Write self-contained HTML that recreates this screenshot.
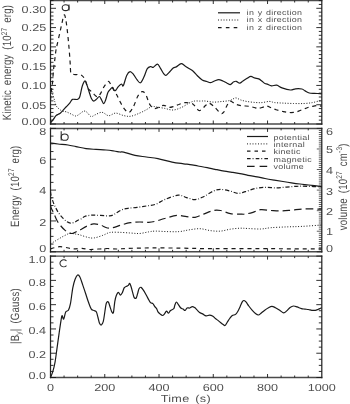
<!DOCTYPE html>
<html><head><meta charset="utf-8"><style>
html,body{margin:0;padding:0;background:#fff;}
body{width:350px;height:404px;overflow:hidden;}
svg{display:block;filter:grayscale(1) blur(0.35px);}
text{font-family:"Liberation Sans",sans-serif;fill:#505050;text-rendering:geometricPrecision;}
text.t{fill:#4a4a4a;}
</style></head><body>
<svg width="350" height="404" viewBox="0 0 350 404">
<defs>
<clipPath id="ca"><rect x="50.5" y="0.5" width="271.3" height="123.5"/></clipPath>
<clipPath id="cb"><rect x="50.5" y="128.4" width="271.3" height="123.4"/></clipPath>
<clipPath id="cc"><rect x="50.5" y="256.1" width="271.3" height="121.39999999999998"/></clipPath>
</defs>
<rect width="350" height="404" fill="#fff"/>
<line x1="49.90" y1="0.50" x2="322.40" y2="0.50" stroke="#4a4a4a" stroke-width="1.45"/>
<line x1="49.90" y1="124.00" x2="322.40" y2="124.00" stroke="#4a4a4a" stroke-width="1.45"/>
<line x1="50.50" y1="-0.20" x2="50.50" y2="124.70" stroke="#262626" stroke-width="1.25"/>
<line x1="321.80" y1="-0.20" x2="321.80" y2="124.70" stroke="#262626" stroke-width="1.25"/>
<line x1="64.06" y1="124.00" x2="64.06" y2="122.00" stroke="#1a1a1a" stroke-width="0.9"/>
<line x1="64.06" y1="0.50" x2="64.06" y2="2.50" stroke="#1a1a1a" stroke-width="0.9"/>
<line x1="77.63" y1="124.00" x2="77.63" y2="122.00" stroke="#1a1a1a" stroke-width="0.9"/>
<line x1="77.63" y1="0.50" x2="77.63" y2="2.50" stroke="#1a1a1a" stroke-width="0.9"/>
<line x1="91.19" y1="124.00" x2="91.19" y2="122.00" stroke="#1a1a1a" stroke-width="0.9"/>
<line x1="91.19" y1="0.50" x2="91.19" y2="2.50" stroke="#1a1a1a" stroke-width="0.9"/>
<line x1="104.76" y1="124.00" x2="104.76" y2="120.50" stroke="#1a1a1a" stroke-width="0.9"/>
<line x1="104.76" y1="0.50" x2="104.76" y2="4.00" stroke="#1a1a1a" stroke-width="0.9"/>
<line x1="118.33" y1="124.00" x2="118.33" y2="122.00" stroke="#1a1a1a" stroke-width="0.9"/>
<line x1="118.33" y1="0.50" x2="118.33" y2="2.50" stroke="#1a1a1a" stroke-width="0.9"/>
<line x1="131.89" y1="124.00" x2="131.89" y2="122.00" stroke="#1a1a1a" stroke-width="0.9"/>
<line x1="131.89" y1="0.50" x2="131.89" y2="2.50" stroke="#1a1a1a" stroke-width="0.9"/>
<line x1="145.45" y1="124.00" x2="145.45" y2="122.00" stroke="#1a1a1a" stroke-width="0.9"/>
<line x1="145.45" y1="0.50" x2="145.45" y2="2.50" stroke="#1a1a1a" stroke-width="0.9"/>
<line x1="159.02" y1="124.00" x2="159.02" y2="120.50" stroke="#1a1a1a" stroke-width="0.9"/>
<line x1="159.02" y1="0.50" x2="159.02" y2="4.00" stroke="#1a1a1a" stroke-width="0.9"/>
<line x1="172.58" y1="124.00" x2="172.58" y2="122.00" stroke="#1a1a1a" stroke-width="0.9"/>
<line x1="172.58" y1="0.50" x2="172.58" y2="2.50" stroke="#1a1a1a" stroke-width="0.9"/>
<line x1="186.15" y1="124.00" x2="186.15" y2="122.00" stroke="#1a1a1a" stroke-width="0.9"/>
<line x1="186.15" y1="0.50" x2="186.15" y2="2.50" stroke="#1a1a1a" stroke-width="0.9"/>
<line x1="199.72" y1="124.00" x2="199.72" y2="122.00" stroke="#1a1a1a" stroke-width="0.9"/>
<line x1="199.72" y1="0.50" x2="199.72" y2="2.50" stroke="#1a1a1a" stroke-width="0.9"/>
<line x1="213.28" y1="124.00" x2="213.28" y2="120.50" stroke="#1a1a1a" stroke-width="0.9"/>
<line x1="213.28" y1="0.50" x2="213.28" y2="4.00" stroke="#1a1a1a" stroke-width="0.9"/>
<line x1="226.84" y1="124.00" x2="226.84" y2="122.00" stroke="#1a1a1a" stroke-width="0.9"/>
<line x1="226.84" y1="0.50" x2="226.84" y2="2.50" stroke="#1a1a1a" stroke-width="0.9"/>
<line x1="240.41" y1="124.00" x2="240.41" y2="122.00" stroke="#1a1a1a" stroke-width="0.9"/>
<line x1="240.41" y1="0.50" x2="240.41" y2="2.50" stroke="#1a1a1a" stroke-width="0.9"/>
<line x1="253.97" y1="124.00" x2="253.97" y2="122.00" stroke="#1a1a1a" stroke-width="0.9"/>
<line x1="253.97" y1="0.50" x2="253.97" y2="2.50" stroke="#1a1a1a" stroke-width="0.9"/>
<line x1="267.54" y1="124.00" x2="267.54" y2="120.50" stroke="#1a1a1a" stroke-width="0.9"/>
<line x1="267.54" y1="0.50" x2="267.54" y2="4.00" stroke="#1a1a1a" stroke-width="0.9"/>
<line x1="281.11" y1="124.00" x2="281.11" y2="122.00" stroke="#1a1a1a" stroke-width="0.9"/>
<line x1="281.11" y1="0.50" x2="281.11" y2="2.50" stroke="#1a1a1a" stroke-width="0.9"/>
<line x1="294.67" y1="124.00" x2="294.67" y2="122.00" stroke="#1a1a1a" stroke-width="0.9"/>
<line x1="294.67" y1="0.50" x2="294.67" y2="2.50" stroke="#1a1a1a" stroke-width="0.9"/>
<line x1="308.24" y1="124.00" x2="308.24" y2="122.00" stroke="#1a1a1a" stroke-width="0.9"/>
<line x1="308.24" y1="0.50" x2="308.24" y2="2.50" stroke="#1a1a1a" stroke-width="0.9"/>
<line x1="49.90" y1="128.40" x2="322.40" y2="128.40" stroke="#4a4a4a" stroke-width="1.45"/>
<line x1="49.90" y1="251.80" x2="322.40" y2="251.80" stroke="#4a4a4a" stroke-width="1.45"/>
<line x1="50.50" y1="127.70" x2="50.50" y2="252.50" stroke="#262626" stroke-width="1.25"/>
<line x1="321.80" y1="127.70" x2="321.80" y2="252.50" stroke="#262626" stroke-width="1.25"/>
<line x1="64.06" y1="251.80" x2="64.06" y2="249.80" stroke="#1a1a1a" stroke-width="0.9"/>
<line x1="64.06" y1="128.40" x2="64.06" y2="130.40" stroke="#1a1a1a" stroke-width="0.9"/>
<line x1="77.63" y1="251.80" x2="77.63" y2="249.80" stroke="#1a1a1a" stroke-width="0.9"/>
<line x1="77.63" y1="128.40" x2="77.63" y2="130.40" stroke="#1a1a1a" stroke-width="0.9"/>
<line x1="91.19" y1="251.80" x2="91.19" y2="249.80" stroke="#1a1a1a" stroke-width="0.9"/>
<line x1="91.19" y1="128.40" x2="91.19" y2="130.40" stroke="#1a1a1a" stroke-width="0.9"/>
<line x1="104.76" y1="251.80" x2="104.76" y2="248.30" stroke="#1a1a1a" stroke-width="0.9"/>
<line x1="104.76" y1="128.40" x2="104.76" y2="131.90" stroke="#1a1a1a" stroke-width="0.9"/>
<line x1="118.33" y1="251.80" x2="118.33" y2="249.80" stroke="#1a1a1a" stroke-width="0.9"/>
<line x1="118.33" y1="128.40" x2="118.33" y2="130.40" stroke="#1a1a1a" stroke-width="0.9"/>
<line x1="131.89" y1="251.80" x2="131.89" y2="249.80" stroke="#1a1a1a" stroke-width="0.9"/>
<line x1="131.89" y1="128.40" x2="131.89" y2="130.40" stroke="#1a1a1a" stroke-width="0.9"/>
<line x1="145.45" y1="251.80" x2="145.45" y2="249.80" stroke="#1a1a1a" stroke-width="0.9"/>
<line x1="145.45" y1="128.40" x2="145.45" y2="130.40" stroke="#1a1a1a" stroke-width="0.9"/>
<line x1="159.02" y1="251.80" x2="159.02" y2="248.30" stroke="#1a1a1a" stroke-width="0.9"/>
<line x1="159.02" y1="128.40" x2="159.02" y2="131.90" stroke="#1a1a1a" stroke-width="0.9"/>
<line x1="172.58" y1="251.80" x2="172.58" y2="249.80" stroke="#1a1a1a" stroke-width="0.9"/>
<line x1="172.58" y1="128.40" x2="172.58" y2="130.40" stroke="#1a1a1a" stroke-width="0.9"/>
<line x1="186.15" y1="251.80" x2="186.15" y2="249.80" stroke="#1a1a1a" stroke-width="0.9"/>
<line x1="186.15" y1="128.40" x2="186.15" y2="130.40" stroke="#1a1a1a" stroke-width="0.9"/>
<line x1="199.72" y1="251.80" x2="199.72" y2="249.80" stroke="#1a1a1a" stroke-width="0.9"/>
<line x1="199.72" y1="128.40" x2="199.72" y2="130.40" stroke="#1a1a1a" stroke-width="0.9"/>
<line x1="213.28" y1="251.80" x2="213.28" y2="248.30" stroke="#1a1a1a" stroke-width="0.9"/>
<line x1="213.28" y1="128.40" x2="213.28" y2="131.90" stroke="#1a1a1a" stroke-width="0.9"/>
<line x1="226.84" y1="251.80" x2="226.84" y2="249.80" stroke="#1a1a1a" stroke-width="0.9"/>
<line x1="226.84" y1="128.40" x2="226.84" y2="130.40" stroke="#1a1a1a" stroke-width="0.9"/>
<line x1="240.41" y1="251.80" x2="240.41" y2="249.80" stroke="#1a1a1a" stroke-width="0.9"/>
<line x1="240.41" y1="128.40" x2="240.41" y2="130.40" stroke="#1a1a1a" stroke-width="0.9"/>
<line x1="253.97" y1="251.80" x2="253.97" y2="249.80" stroke="#1a1a1a" stroke-width="0.9"/>
<line x1="253.97" y1="128.40" x2="253.97" y2="130.40" stroke="#1a1a1a" stroke-width="0.9"/>
<line x1="267.54" y1="251.80" x2="267.54" y2="248.30" stroke="#1a1a1a" stroke-width="0.9"/>
<line x1="267.54" y1="128.40" x2="267.54" y2="131.90" stroke="#1a1a1a" stroke-width="0.9"/>
<line x1="281.11" y1="251.80" x2="281.11" y2="249.80" stroke="#1a1a1a" stroke-width="0.9"/>
<line x1="281.11" y1="128.40" x2="281.11" y2="130.40" stroke="#1a1a1a" stroke-width="0.9"/>
<line x1="294.67" y1="251.80" x2="294.67" y2="249.80" stroke="#1a1a1a" stroke-width="0.9"/>
<line x1="294.67" y1="128.40" x2="294.67" y2="130.40" stroke="#1a1a1a" stroke-width="0.9"/>
<line x1="308.24" y1="251.80" x2="308.24" y2="249.80" stroke="#1a1a1a" stroke-width="0.9"/>
<line x1="308.24" y1="128.40" x2="308.24" y2="130.40" stroke="#1a1a1a" stroke-width="0.9"/>
<line x1="49.90" y1="256.10" x2="322.40" y2="256.10" stroke="#4a4a4a" stroke-width="1.45"/>
<line x1="49.90" y1="377.50" x2="322.40" y2="377.50" stroke="#4a4a4a" stroke-width="1.45"/>
<line x1="50.50" y1="255.40" x2="50.50" y2="378.20" stroke="#262626" stroke-width="1.25"/>
<line x1="321.80" y1="255.40" x2="321.80" y2="378.20" stroke="#262626" stroke-width="1.25"/>
<line x1="64.06" y1="377.50" x2="64.06" y2="375.50" stroke="#1a1a1a" stroke-width="0.9"/>
<line x1="64.06" y1="256.10" x2="64.06" y2="258.10" stroke="#1a1a1a" stroke-width="0.9"/>
<line x1="77.63" y1="377.50" x2="77.63" y2="375.50" stroke="#1a1a1a" stroke-width="0.9"/>
<line x1="77.63" y1="256.10" x2="77.63" y2="258.10" stroke="#1a1a1a" stroke-width="0.9"/>
<line x1="91.19" y1="377.50" x2="91.19" y2="375.50" stroke="#1a1a1a" stroke-width="0.9"/>
<line x1="91.19" y1="256.10" x2="91.19" y2="258.10" stroke="#1a1a1a" stroke-width="0.9"/>
<line x1="104.76" y1="377.50" x2="104.76" y2="374.00" stroke="#1a1a1a" stroke-width="0.9"/>
<line x1="104.76" y1="256.10" x2="104.76" y2="259.60" stroke="#1a1a1a" stroke-width="0.9"/>
<line x1="118.33" y1="377.50" x2="118.33" y2="375.50" stroke="#1a1a1a" stroke-width="0.9"/>
<line x1="118.33" y1="256.10" x2="118.33" y2="258.10" stroke="#1a1a1a" stroke-width="0.9"/>
<line x1="131.89" y1="377.50" x2="131.89" y2="375.50" stroke="#1a1a1a" stroke-width="0.9"/>
<line x1="131.89" y1="256.10" x2="131.89" y2="258.10" stroke="#1a1a1a" stroke-width="0.9"/>
<line x1="145.45" y1="377.50" x2="145.45" y2="375.50" stroke="#1a1a1a" stroke-width="0.9"/>
<line x1="145.45" y1="256.10" x2="145.45" y2="258.10" stroke="#1a1a1a" stroke-width="0.9"/>
<line x1="159.02" y1="377.50" x2="159.02" y2="374.00" stroke="#1a1a1a" stroke-width="0.9"/>
<line x1="159.02" y1="256.10" x2="159.02" y2="259.60" stroke="#1a1a1a" stroke-width="0.9"/>
<line x1="172.58" y1="377.50" x2="172.58" y2="375.50" stroke="#1a1a1a" stroke-width="0.9"/>
<line x1="172.58" y1="256.10" x2="172.58" y2="258.10" stroke="#1a1a1a" stroke-width="0.9"/>
<line x1="186.15" y1="377.50" x2="186.15" y2="375.50" stroke="#1a1a1a" stroke-width="0.9"/>
<line x1="186.15" y1="256.10" x2="186.15" y2="258.10" stroke="#1a1a1a" stroke-width="0.9"/>
<line x1="199.72" y1="377.50" x2="199.72" y2="375.50" stroke="#1a1a1a" stroke-width="0.9"/>
<line x1="199.72" y1="256.10" x2="199.72" y2="258.10" stroke="#1a1a1a" stroke-width="0.9"/>
<line x1="213.28" y1="377.50" x2="213.28" y2="374.00" stroke="#1a1a1a" stroke-width="0.9"/>
<line x1="213.28" y1="256.10" x2="213.28" y2="259.60" stroke="#1a1a1a" stroke-width="0.9"/>
<line x1="226.84" y1="377.50" x2="226.84" y2="375.50" stroke="#1a1a1a" stroke-width="0.9"/>
<line x1="226.84" y1="256.10" x2="226.84" y2="258.10" stroke="#1a1a1a" stroke-width="0.9"/>
<line x1="240.41" y1="377.50" x2="240.41" y2="375.50" stroke="#1a1a1a" stroke-width="0.9"/>
<line x1="240.41" y1="256.10" x2="240.41" y2="258.10" stroke="#1a1a1a" stroke-width="0.9"/>
<line x1="253.97" y1="377.50" x2="253.97" y2="375.50" stroke="#1a1a1a" stroke-width="0.9"/>
<line x1="253.97" y1="256.10" x2="253.97" y2="258.10" stroke="#1a1a1a" stroke-width="0.9"/>
<line x1="267.54" y1="377.50" x2="267.54" y2="374.00" stroke="#1a1a1a" stroke-width="0.9"/>
<line x1="267.54" y1="256.10" x2="267.54" y2="259.60" stroke="#1a1a1a" stroke-width="0.9"/>
<line x1="281.11" y1="377.50" x2="281.11" y2="375.50" stroke="#1a1a1a" stroke-width="0.9"/>
<line x1="281.11" y1="256.10" x2="281.11" y2="258.10" stroke="#1a1a1a" stroke-width="0.9"/>
<line x1="294.67" y1="377.50" x2="294.67" y2="375.50" stroke="#1a1a1a" stroke-width="0.9"/>
<line x1="294.67" y1="256.10" x2="294.67" y2="258.10" stroke="#1a1a1a" stroke-width="0.9"/>
<line x1="308.24" y1="377.50" x2="308.24" y2="375.50" stroke="#1a1a1a" stroke-width="0.9"/>
<line x1="308.24" y1="256.10" x2="308.24" y2="258.10" stroke="#1a1a1a" stroke-width="0.9"/>
<line x1="50.50" y1="124.00" x2="56.00" y2="124.00" stroke="#1a1a1a" stroke-width="0.9"/>
<line x1="321.80" y1="124.00" x2="316.30" y2="124.00" stroke="#1a1a1a" stroke-width="0.9"/>
<line x1="50.50" y1="120.14" x2="53.50" y2="120.14" stroke="#1a1a1a" stroke-width="0.9"/>
<line x1="321.80" y1="120.14" x2="318.80" y2="120.14" stroke="#1a1a1a" stroke-width="0.9"/>
<line x1="50.50" y1="116.29" x2="53.50" y2="116.29" stroke="#1a1a1a" stroke-width="0.9"/>
<line x1="321.80" y1="116.29" x2="318.80" y2="116.29" stroke="#1a1a1a" stroke-width="0.9"/>
<line x1="50.50" y1="112.43" x2="53.50" y2="112.43" stroke="#1a1a1a" stroke-width="0.9"/>
<line x1="321.80" y1="112.43" x2="318.80" y2="112.43" stroke="#1a1a1a" stroke-width="0.9"/>
<line x1="50.50" y1="108.57" x2="53.50" y2="108.57" stroke="#1a1a1a" stroke-width="0.9"/>
<line x1="321.80" y1="108.57" x2="318.80" y2="108.57" stroke="#1a1a1a" stroke-width="0.9"/>
<line x1="50.50" y1="104.72" x2="56.00" y2="104.72" stroke="#1a1a1a" stroke-width="0.9"/>
<line x1="321.80" y1="104.72" x2="316.30" y2="104.72" stroke="#1a1a1a" stroke-width="0.9"/>
<line x1="50.50" y1="100.86" x2="53.50" y2="100.86" stroke="#1a1a1a" stroke-width="0.9"/>
<line x1="321.80" y1="100.86" x2="318.80" y2="100.86" stroke="#1a1a1a" stroke-width="0.9"/>
<line x1="50.50" y1="97.00" x2="53.50" y2="97.00" stroke="#1a1a1a" stroke-width="0.9"/>
<line x1="321.80" y1="97.00" x2="318.80" y2="97.00" stroke="#1a1a1a" stroke-width="0.9"/>
<line x1="50.50" y1="93.15" x2="53.50" y2="93.15" stroke="#1a1a1a" stroke-width="0.9"/>
<line x1="321.80" y1="93.15" x2="318.80" y2="93.15" stroke="#1a1a1a" stroke-width="0.9"/>
<line x1="50.50" y1="89.29" x2="53.50" y2="89.29" stroke="#1a1a1a" stroke-width="0.9"/>
<line x1="321.80" y1="89.29" x2="318.80" y2="89.29" stroke="#1a1a1a" stroke-width="0.9"/>
<line x1="50.50" y1="85.43" x2="56.00" y2="85.43" stroke="#1a1a1a" stroke-width="0.9"/>
<line x1="321.80" y1="85.43" x2="316.30" y2="85.43" stroke="#1a1a1a" stroke-width="0.9"/>
<line x1="50.50" y1="81.58" x2="53.50" y2="81.58" stroke="#1a1a1a" stroke-width="0.9"/>
<line x1="321.80" y1="81.58" x2="318.80" y2="81.58" stroke="#1a1a1a" stroke-width="0.9"/>
<line x1="50.50" y1="77.72" x2="53.50" y2="77.72" stroke="#1a1a1a" stroke-width="0.9"/>
<line x1="321.80" y1="77.72" x2="318.80" y2="77.72" stroke="#1a1a1a" stroke-width="0.9"/>
<line x1="50.50" y1="73.86" x2="53.50" y2="73.86" stroke="#1a1a1a" stroke-width="0.9"/>
<line x1="321.80" y1="73.86" x2="318.80" y2="73.86" stroke="#1a1a1a" stroke-width="0.9"/>
<line x1="50.50" y1="70.01" x2="53.50" y2="70.01" stroke="#1a1a1a" stroke-width="0.9"/>
<line x1="321.80" y1="70.01" x2="318.80" y2="70.01" stroke="#1a1a1a" stroke-width="0.9"/>
<line x1="50.50" y1="66.15" x2="56.00" y2="66.15" stroke="#1a1a1a" stroke-width="0.9"/>
<line x1="321.80" y1="66.15" x2="316.30" y2="66.15" stroke="#1a1a1a" stroke-width="0.9"/>
<line x1="50.50" y1="62.29" x2="53.50" y2="62.29" stroke="#1a1a1a" stroke-width="0.9"/>
<line x1="321.80" y1="62.29" x2="318.80" y2="62.29" stroke="#1a1a1a" stroke-width="0.9"/>
<line x1="50.50" y1="58.44" x2="53.50" y2="58.44" stroke="#1a1a1a" stroke-width="0.9"/>
<line x1="321.80" y1="58.44" x2="318.80" y2="58.44" stroke="#1a1a1a" stroke-width="0.9"/>
<line x1="50.50" y1="54.58" x2="53.50" y2="54.58" stroke="#1a1a1a" stroke-width="0.9"/>
<line x1="321.80" y1="54.58" x2="318.80" y2="54.58" stroke="#1a1a1a" stroke-width="0.9"/>
<line x1="50.50" y1="50.72" x2="53.50" y2="50.72" stroke="#1a1a1a" stroke-width="0.9"/>
<line x1="321.80" y1="50.72" x2="318.80" y2="50.72" stroke="#1a1a1a" stroke-width="0.9"/>
<line x1="50.50" y1="46.87" x2="56.00" y2="46.87" stroke="#1a1a1a" stroke-width="0.9"/>
<line x1="321.80" y1="46.87" x2="316.30" y2="46.87" stroke="#1a1a1a" stroke-width="0.9"/>
<line x1="50.50" y1="43.01" x2="53.50" y2="43.01" stroke="#1a1a1a" stroke-width="0.9"/>
<line x1="321.80" y1="43.01" x2="318.80" y2="43.01" stroke="#1a1a1a" stroke-width="0.9"/>
<line x1="50.50" y1="39.15" x2="53.50" y2="39.15" stroke="#1a1a1a" stroke-width="0.9"/>
<line x1="321.80" y1="39.15" x2="318.80" y2="39.15" stroke="#1a1a1a" stroke-width="0.9"/>
<line x1="50.50" y1="35.30" x2="53.50" y2="35.30" stroke="#1a1a1a" stroke-width="0.9"/>
<line x1="321.80" y1="35.30" x2="318.80" y2="35.30" stroke="#1a1a1a" stroke-width="0.9"/>
<line x1="50.50" y1="31.44" x2="53.50" y2="31.44" stroke="#1a1a1a" stroke-width="0.9"/>
<line x1="321.80" y1="31.44" x2="318.80" y2="31.44" stroke="#1a1a1a" stroke-width="0.9"/>
<line x1="50.50" y1="27.58" x2="56.00" y2="27.58" stroke="#1a1a1a" stroke-width="0.9"/>
<line x1="321.80" y1="27.58" x2="316.30" y2="27.58" stroke="#1a1a1a" stroke-width="0.9"/>
<line x1="50.50" y1="23.73" x2="53.50" y2="23.73" stroke="#1a1a1a" stroke-width="0.9"/>
<line x1="321.80" y1="23.73" x2="318.80" y2="23.73" stroke="#1a1a1a" stroke-width="0.9"/>
<line x1="50.50" y1="19.87" x2="53.50" y2="19.87" stroke="#1a1a1a" stroke-width="0.9"/>
<line x1="321.80" y1="19.87" x2="318.80" y2="19.87" stroke="#1a1a1a" stroke-width="0.9"/>
<line x1="50.50" y1="16.01" x2="53.50" y2="16.01" stroke="#1a1a1a" stroke-width="0.9"/>
<line x1="321.80" y1="16.01" x2="318.80" y2="16.01" stroke="#1a1a1a" stroke-width="0.9"/>
<line x1="50.50" y1="12.16" x2="53.50" y2="12.16" stroke="#1a1a1a" stroke-width="0.9"/>
<line x1="321.80" y1="12.16" x2="318.80" y2="12.16" stroke="#1a1a1a" stroke-width="0.9"/>
<line x1="50.50" y1="8.30" x2="56.00" y2="8.30" stroke="#1a1a1a" stroke-width="0.9"/>
<line x1="321.80" y1="8.30" x2="316.30" y2="8.30" stroke="#1a1a1a" stroke-width="0.9"/>
<line x1="50.50" y1="4.44" x2="53.50" y2="4.44" stroke="#1a1a1a" stroke-width="0.9"/>
<line x1="321.80" y1="4.44" x2="318.80" y2="4.44" stroke="#1a1a1a" stroke-width="0.9"/>
<line x1="50.50" y1="0.59" x2="53.50" y2="0.59" stroke="#1a1a1a" stroke-width="0.9"/>
<line x1="321.80" y1="0.59" x2="318.80" y2="0.59" stroke="#1a1a1a" stroke-width="0.9"/>
<line x1="50.50" y1="251.80" x2="56.00" y2="251.80" stroke="#1a1a1a" stroke-width="0.9"/>
<line x1="50.50" y1="244.09" x2="53.50" y2="244.09" stroke="#1a1a1a" stroke-width="0.9"/>
<line x1="50.50" y1="236.38" x2="53.50" y2="236.38" stroke="#1a1a1a" stroke-width="0.9"/>
<line x1="50.50" y1="228.66" x2="53.50" y2="228.66" stroke="#1a1a1a" stroke-width="0.9"/>
<line x1="50.50" y1="220.95" x2="56.00" y2="220.95" stroke="#1a1a1a" stroke-width="0.9"/>
<line x1="50.50" y1="213.24" x2="53.50" y2="213.24" stroke="#1a1a1a" stroke-width="0.9"/>
<line x1="50.50" y1="205.53" x2="53.50" y2="205.53" stroke="#1a1a1a" stroke-width="0.9"/>
<line x1="50.50" y1="197.81" x2="53.50" y2="197.81" stroke="#1a1a1a" stroke-width="0.9"/>
<line x1="50.50" y1="190.10" x2="56.00" y2="190.10" stroke="#1a1a1a" stroke-width="0.9"/>
<line x1="50.50" y1="182.39" x2="53.50" y2="182.39" stroke="#1a1a1a" stroke-width="0.9"/>
<line x1="50.50" y1="174.68" x2="53.50" y2="174.68" stroke="#1a1a1a" stroke-width="0.9"/>
<line x1="50.50" y1="166.96" x2="53.50" y2="166.96" stroke="#1a1a1a" stroke-width="0.9"/>
<line x1="50.50" y1="159.25" x2="56.00" y2="159.25" stroke="#1a1a1a" stroke-width="0.9"/>
<line x1="50.50" y1="151.54" x2="53.50" y2="151.54" stroke="#1a1a1a" stroke-width="0.9"/>
<line x1="50.50" y1="143.82" x2="53.50" y2="143.82" stroke="#1a1a1a" stroke-width="0.9"/>
<line x1="50.50" y1="136.11" x2="53.50" y2="136.11" stroke="#1a1a1a" stroke-width="0.9"/>
<line x1="50.50" y1="128.40" x2="56.00" y2="128.40" stroke="#1a1a1a" stroke-width="0.9"/>
<line x1="321.80" y1="251.80" x2="316.80" y2="251.80" stroke="#1a1a1a" stroke-width="0.7"/>
<line x1="321.80" y1="249.74" x2="318.80" y2="249.74" stroke="#1a1a1a" stroke-width="0.7"/>
<line x1="321.80" y1="247.69" x2="318.80" y2="247.69" stroke="#1a1a1a" stroke-width="0.7"/>
<line x1="321.80" y1="245.63" x2="318.80" y2="245.63" stroke="#1a1a1a" stroke-width="0.7"/>
<line x1="321.80" y1="243.57" x2="318.80" y2="243.57" stroke="#1a1a1a" stroke-width="0.7"/>
<line x1="321.80" y1="241.52" x2="318.80" y2="241.52" stroke="#1a1a1a" stroke-width="0.7"/>
<line x1="321.80" y1="239.46" x2="318.80" y2="239.46" stroke="#1a1a1a" stroke-width="0.7"/>
<line x1="321.80" y1="237.40" x2="318.80" y2="237.40" stroke="#1a1a1a" stroke-width="0.7"/>
<line x1="321.80" y1="235.35" x2="318.80" y2="235.35" stroke="#1a1a1a" stroke-width="0.7"/>
<line x1="321.80" y1="233.29" x2="318.80" y2="233.29" stroke="#1a1a1a" stroke-width="0.7"/>
<line x1="321.80" y1="231.23" x2="316.80" y2="231.23" stroke="#1a1a1a" stroke-width="0.7"/>
<line x1="321.80" y1="229.18" x2="318.80" y2="229.18" stroke="#1a1a1a" stroke-width="0.7"/>
<line x1="321.80" y1="227.12" x2="318.80" y2="227.12" stroke="#1a1a1a" stroke-width="0.7"/>
<line x1="321.80" y1="225.06" x2="318.80" y2="225.06" stroke="#1a1a1a" stroke-width="0.7"/>
<line x1="321.80" y1="223.01" x2="318.80" y2="223.01" stroke="#1a1a1a" stroke-width="0.7"/>
<line x1="321.80" y1="220.95" x2="318.80" y2="220.95" stroke="#1a1a1a" stroke-width="0.7"/>
<line x1="321.80" y1="218.89" x2="318.80" y2="218.89" stroke="#1a1a1a" stroke-width="0.7"/>
<line x1="321.80" y1="216.84" x2="318.80" y2="216.84" stroke="#1a1a1a" stroke-width="0.7"/>
<line x1="321.80" y1="214.78" x2="318.80" y2="214.78" stroke="#1a1a1a" stroke-width="0.7"/>
<line x1="321.80" y1="212.72" x2="318.80" y2="212.72" stroke="#1a1a1a" stroke-width="0.7"/>
<line x1="321.80" y1="210.67" x2="316.80" y2="210.67" stroke="#1a1a1a" stroke-width="0.7"/>
<line x1="321.80" y1="208.61" x2="318.80" y2="208.61" stroke="#1a1a1a" stroke-width="0.7"/>
<line x1="321.80" y1="206.55" x2="318.80" y2="206.55" stroke="#1a1a1a" stroke-width="0.7"/>
<line x1="321.80" y1="204.50" x2="318.80" y2="204.50" stroke="#1a1a1a" stroke-width="0.7"/>
<line x1="321.80" y1="202.44" x2="318.80" y2="202.44" stroke="#1a1a1a" stroke-width="0.7"/>
<line x1="321.80" y1="200.38" x2="318.80" y2="200.38" stroke="#1a1a1a" stroke-width="0.7"/>
<line x1="321.80" y1="198.33" x2="318.80" y2="198.33" stroke="#1a1a1a" stroke-width="0.7"/>
<line x1="321.80" y1="196.27" x2="318.80" y2="196.27" stroke="#1a1a1a" stroke-width="0.7"/>
<line x1="321.80" y1="194.21" x2="318.80" y2="194.21" stroke="#1a1a1a" stroke-width="0.7"/>
<line x1="321.80" y1="192.16" x2="318.80" y2="192.16" stroke="#1a1a1a" stroke-width="0.7"/>
<line x1="321.80" y1="190.10" x2="316.80" y2="190.10" stroke="#1a1a1a" stroke-width="0.7"/>
<line x1="321.80" y1="188.04" x2="318.80" y2="188.04" stroke="#1a1a1a" stroke-width="0.7"/>
<line x1="321.80" y1="185.99" x2="318.80" y2="185.99" stroke="#1a1a1a" stroke-width="0.7"/>
<line x1="321.80" y1="183.93" x2="318.80" y2="183.93" stroke="#1a1a1a" stroke-width="0.7"/>
<line x1="321.80" y1="181.87" x2="318.80" y2="181.87" stroke="#1a1a1a" stroke-width="0.7"/>
<line x1="321.80" y1="179.82" x2="318.80" y2="179.82" stroke="#1a1a1a" stroke-width="0.7"/>
<line x1="321.80" y1="177.76" x2="318.80" y2="177.76" stroke="#1a1a1a" stroke-width="0.7"/>
<line x1="321.80" y1="175.70" x2="318.80" y2="175.70" stroke="#1a1a1a" stroke-width="0.7"/>
<line x1="321.80" y1="173.65" x2="318.80" y2="173.65" stroke="#1a1a1a" stroke-width="0.7"/>
<line x1="321.80" y1="171.59" x2="318.80" y2="171.59" stroke="#1a1a1a" stroke-width="0.7"/>
<line x1="321.80" y1="169.53" x2="316.80" y2="169.53" stroke="#1a1a1a" stroke-width="0.7"/>
<line x1="321.80" y1="167.48" x2="318.80" y2="167.48" stroke="#1a1a1a" stroke-width="0.7"/>
<line x1="321.80" y1="165.42" x2="318.80" y2="165.42" stroke="#1a1a1a" stroke-width="0.7"/>
<line x1="321.80" y1="163.36" x2="318.80" y2="163.36" stroke="#1a1a1a" stroke-width="0.7"/>
<line x1="321.80" y1="161.31" x2="318.80" y2="161.31" stroke="#1a1a1a" stroke-width="0.7"/>
<line x1="321.80" y1="159.25" x2="318.80" y2="159.25" stroke="#1a1a1a" stroke-width="0.7"/>
<line x1="321.80" y1="157.19" x2="318.80" y2="157.19" stroke="#1a1a1a" stroke-width="0.7"/>
<line x1="321.80" y1="155.14" x2="318.80" y2="155.14" stroke="#1a1a1a" stroke-width="0.7"/>
<line x1="321.80" y1="153.08" x2="318.80" y2="153.08" stroke="#1a1a1a" stroke-width="0.7"/>
<line x1="321.80" y1="151.02" x2="318.80" y2="151.02" stroke="#1a1a1a" stroke-width="0.7"/>
<line x1="321.80" y1="148.97" x2="316.80" y2="148.97" stroke="#1a1a1a" stroke-width="0.7"/>
<line x1="321.80" y1="146.91" x2="318.80" y2="146.91" stroke="#1a1a1a" stroke-width="0.7"/>
<line x1="321.80" y1="144.85" x2="318.80" y2="144.85" stroke="#1a1a1a" stroke-width="0.7"/>
<line x1="321.80" y1="142.80" x2="318.80" y2="142.80" stroke="#1a1a1a" stroke-width="0.7"/>
<line x1="321.80" y1="140.74" x2="318.80" y2="140.74" stroke="#1a1a1a" stroke-width="0.7"/>
<line x1="321.80" y1="138.68" x2="318.80" y2="138.68" stroke="#1a1a1a" stroke-width="0.7"/>
<line x1="321.80" y1="136.63" x2="318.80" y2="136.63" stroke="#1a1a1a" stroke-width="0.7"/>
<line x1="321.80" y1="134.57" x2="318.80" y2="134.57" stroke="#1a1a1a" stroke-width="0.7"/>
<line x1="321.80" y1="132.51" x2="318.80" y2="132.51" stroke="#1a1a1a" stroke-width="0.7"/>
<line x1="321.80" y1="130.46" x2="318.80" y2="130.46" stroke="#1a1a1a" stroke-width="0.7"/>
<line x1="321.80" y1="128.40" x2="316.80" y2="128.40" stroke="#1a1a1a" stroke-width="0.7"/>
<line x1="50.50" y1="377.50" x2="56.00" y2="377.50" stroke="#1a1a1a" stroke-width="0.9"/>
<line x1="321.80" y1="377.50" x2="316.30" y2="377.50" stroke="#1a1a1a" stroke-width="0.9"/>
<line x1="50.50" y1="371.43" x2="53.50" y2="371.43" stroke="#1a1a1a" stroke-width="0.9"/>
<line x1="321.80" y1="371.43" x2="318.80" y2="371.43" stroke="#1a1a1a" stroke-width="0.9"/>
<line x1="50.50" y1="365.36" x2="53.50" y2="365.36" stroke="#1a1a1a" stroke-width="0.9"/>
<line x1="321.80" y1="365.36" x2="318.80" y2="365.36" stroke="#1a1a1a" stroke-width="0.9"/>
<line x1="50.50" y1="359.29" x2="53.50" y2="359.29" stroke="#1a1a1a" stroke-width="0.9"/>
<line x1="321.80" y1="359.29" x2="318.80" y2="359.29" stroke="#1a1a1a" stroke-width="0.9"/>
<line x1="50.50" y1="353.22" x2="56.00" y2="353.22" stroke="#1a1a1a" stroke-width="0.9"/>
<line x1="321.80" y1="353.22" x2="316.30" y2="353.22" stroke="#1a1a1a" stroke-width="0.9"/>
<line x1="50.50" y1="347.15" x2="53.50" y2="347.15" stroke="#1a1a1a" stroke-width="0.9"/>
<line x1="321.80" y1="347.15" x2="318.80" y2="347.15" stroke="#1a1a1a" stroke-width="0.9"/>
<line x1="50.50" y1="341.08" x2="53.50" y2="341.08" stroke="#1a1a1a" stroke-width="0.9"/>
<line x1="321.80" y1="341.08" x2="318.80" y2="341.08" stroke="#1a1a1a" stroke-width="0.9"/>
<line x1="50.50" y1="335.01" x2="53.50" y2="335.01" stroke="#1a1a1a" stroke-width="0.9"/>
<line x1="321.80" y1="335.01" x2="318.80" y2="335.01" stroke="#1a1a1a" stroke-width="0.9"/>
<line x1="50.50" y1="328.94" x2="56.00" y2="328.94" stroke="#1a1a1a" stroke-width="0.9"/>
<line x1="321.80" y1="328.94" x2="316.30" y2="328.94" stroke="#1a1a1a" stroke-width="0.9"/>
<line x1="50.50" y1="322.87" x2="53.50" y2="322.87" stroke="#1a1a1a" stroke-width="0.9"/>
<line x1="321.80" y1="322.87" x2="318.80" y2="322.87" stroke="#1a1a1a" stroke-width="0.9"/>
<line x1="50.50" y1="316.80" x2="53.50" y2="316.80" stroke="#1a1a1a" stroke-width="0.9"/>
<line x1="321.80" y1="316.80" x2="318.80" y2="316.80" stroke="#1a1a1a" stroke-width="0.9"/>
<line x1="50.50" y1="310.73" x2="53.50" y2="310.73" stroke="#1a1a1a" stroke-width="0.9"/>
<line x1="321.80" y1="310.73" x2="318.80" y2="310.73" stroke="#1a1a1a" stroke-width="0.9"/>
<line x1="50.50" y1="304.66" x2="56.00" y2="304.66" stroke="#1a1a1a" stroke-width="0.9"/>
<line x1="321.80" y1="304.66" x2="316.30" y2="304.66" stroke="#1a1a1a" stroke-width="0.9"/>
<line x1="50.50" y1="298.59" x2="53.50" y2="298.59" stroke="#1a1a1a" stroke-width="0.9"/>
<line x1="321.80" y1="298.59" x2="318.80" y2="298.59" stroke="#1a1a1a" stroke-width="0.9"/>
<line x1="50.50" y1="292.52" x2="53.50" y2="292.52" stroke="#1a1a1a" stroke-width="0.9"/>
<line x1="321.80" y1="292.52" x2="318.80" y2="292.52" stroke="#1a1a1a" stroke-width="0.9"/>
<line x1="50.50" y1="286.45" x2="53.50" y2="286.45" stroke="#1a1a1a" stroke-width="0.9"/>
<line x1="321.80" y1="286.45" x2="318.80" y2="286.45" stroke="#1a1a1a" stroke-width="0.9"/>
<line x1="50.50" y1="280.38" x2="56.00" y2="280.38" stroke="#1a1a1a" stroke-width="0.9"/>
<line x1="321.80" y1="280.38" x2="316.30" y2="280.38" stroke="#1a1a1a" stroke-width="0.9"/>
<line x1="50.50" y1="274.31" x2="53.50" y2="274.31" stroke="#1a1a1a" stroke-width="0.9"/>
<line x1="321.80" y1="274.31" x2="318.80" y2="274.31" stroke="#1a1a1a" stroke-width="0.9"/>
<line x1="50.50" y1="268.24" x2="53.50" y2="268.24" stroke="#1a1a1a" stroke-width="0.9"/>
<line x1="321.80" y1="268.24" x2="318.80" y2="268.24" stroke="#1a1a1a" stroke-width="0.9"/>
<line x1="50.50" y1="262.17" x2="53.50" y2="262.17" stroke="#1a1a1a" stroke-width="0.9"/>
<line x1="321.80" y1="262.17" x2="318.80" y2="262.17" stroke="#1a1a1a" stroke-width="0.9"/>
<line x1="50.50" y1="256.10" x2="56.00" y2="256.10" stroke="#1a1a1a" stroke-width="0.9"/>
<line x1="321.80" y1="256.10" x2="316.30" y2="256.10" stroke="#1a1a1a" stroke-width="0.9"/>
<g clip-path="url(#ca)">
<path d="M50.50,86.00 C50.67,86.50 51.17,87.67 51.50,89.00 C51.83,90.33 52.04,92.30 52.50,94.00 C52.96,95.70 53.88,97.97 54.25,99.20 C54.62,100.43 54.33,100.22 54.70,101.40 C55.08,102.58 55.75,105.03 56.50,106.30 C57.25,107.57 58.23,108.18 59.20,109.00 C60.17,109.82 61.15,110.73 62.30,111.20 C63.45,111.67 64.67,111.35 66.10,111.80 C67.53,112.25 69.30,113.20 70.90,113.90 C72.50,114.60 74.23,116.00 75.70,116.00 C77.17,116.00 78.35,114.72 79.70,113.90 C81.05,113.08 82.58,111.37 83.80,111.10 C85.02,110.83 85.80,111.38 87.00,112.30 C88.20,113.22 89.67,116.17 91.00,116.60 C92.33,117.03 93.18,115.62 95.00,114.90 C96.82,114.18 99.62,112.17 101.90,112.30 C104.18,112.43 106.42,115.57 108.70,115.70 C110.98,115.83 113.03,113.10 115.60,113.10 C118.17,113.10 121.53,115.18 124.10,115.70 C126.67,116.22 128.42,116.63 131.00,116.20 C133.58,115.77 137.03,114.18 139.60,113.10 C142.17,112.02 144.40,110.78 146.40,109.70 C148.40,108.62 149.95,107.07 151.60,106.60 C153.25,106.13 154.12,106.60 156.30,106.90 C158.48,107.20 161.88,107.88 164.70,108.40 C167.52,108.92 170.38,110.17 173.20,110.00 C176.02,109.83 178.98,108.53 181.60,107.40 C184.22,106.27 186.80,104.25 188.90,103.20 C191.00,102.15 192.27,101.45 194.20,101.10 C196.13,100.75 198.70,101.12 200.50,101.10 C202.30,101.08 202.85,100.83 205.00,101.00 C207.15,101.17 210.60,102.02 213.40,102.10 C216.20,102.18 218.98,101.78 221.80,101.50 C224.62,101.22 228.02,101.00 230.30,100.40 C232.58,99.80 233.75,97.97 235.50,97.90 C237.25,97.83 238.87,99.40 240.80,100.00 C242.73,100.60 244.65,101.08 247.10,101.50 C249.55,101.92 253.02,102.32 255.50,102.50 C257.98,102.68 259.68,102.78 262.00,102.60 C264.32,102.42 267.30,101.40 269.40,101.40 C271.50,101.40 272.33,102.32 274.60,102.60 C276.87,102.88 279.85,102.95 283.00,103.10 C286.15,103.25 290.00,103.43 293.50,103.50 C297.00,103.57 300.85,103.65 304.00,103.50 C307.15,103.35 309.93,103.02 312.40,102.60 C314.87,102.18 317.23,101.35 318.80,101.00 C320.37,100.65 321.30,100.58 321.80,100.50" fill="none" stroke="#1a1a1a" stroke-width="1.0" stroke-linejoin="round" stroke-linecap="butt" stroke-dasharray="1.0 1.65"/>
<path d="M50.50,100.00 C50.62,98.67 50.87,94.83 51.20,92.00 C51.53,89.17 52.12,86.67 52.50,83.00 C52.88,79.33 53.08,74.17 53.50,70.00 C53.92,65.83 54.58,61.33 55.00,58.00 C55.42,54.67 55.62,52.33 56.00,50.00 C56.38,47.67 56.63,47.00 57.30,44.00 C57.97,41.00 59.22,35.50 60.00,32.00 C60.78,28.50 61.33,25.83 62.00,23.00 C62.67,20.17 63.42,15.83 64.00,15.00 C64.58,14.17 65.00,15.83 65.50,18.00 C66.00,20.17 66.50,24.00 67.00,28.00 C67.50,32.00 68.07,37.50 68.50,42.00 C68.93,46.50 69.30,51.17 69.60,55.00 C69.90,58.83 70.08,62.02 70.30,65.00 C70.52,67.98 70.27,71.32 70.90,72.90 C71.53,74.48 72.92,74.23 74.10,74.50 C75.28,74.77 76.83,74.42 78.00,74.50 C79.17,74.58 80.20,74.58 81.10,75.00 C82.00,75.42 82.67,76.00 83.40,77.00 C84.13,78.00 84.73,79.12 85.50,81.00 C86.27,82.88 87.10,86.62 88.00,88.30 C88.90,89.98 89.85,90.05 90.90,91.10 C91.95,92.15 93.17,93.63 94.30,94.60 C95.43,95.57 96.65,97.10 97.70,96.90 C98.75,96.70 99.65,94.93 100.60,93.40 C101.55,91.87 102.55,89.22 103.40,87.70 C104.25,86.18 104.83,85.35 105.70,84.30 C106.57,83.25 107.73,81.30 108.60,81.40 C109.47,81.50 110.15,83.65 110.90,84.90 C111.65,86.15 112.18,87.33 113.10,88.90 C114.02,90.47 115.13,91.97 116.40,94.30 C117.67,96.63 119.27,100.33 120.70,102.90 C122.13,105.47 123.57,108.13 125.00,109.70 C126.43,111.27 127.87,112.87 129.30,112.30 C130.73,111.73 132.17,109.02 133.60,106.30 C135.03,103.58 136.48,98.43 137.90,96.00 C139.32,93.57 140.82,91.98 142.10,91.70 C143.38,91.42 144.30,92.15 145.60,94.30 C146.90,96.45 148.47,102.25 149.90,104.60 C151.33,106.95 152.78,107.93 154.20,108.40 C155.62,108.87 156.82,107.92 158.40,107.40 C159.98,106.88 161.95,105.30 163.70,105.30 C165.45,105.30 167.15,107.23 168.90,107.40 C170.65,107.57 172.43,106.83 174.20,106.30 C175.97,105.77 177.75,104.80 179.50,104.20 C181.25,103.60 182.78,102.87 184.70,102.70 C186.62,102.53 189.42,102.77 191.00,103.20 C192.58,103.63 192.90,104.08 194.20,105.30 C195.50,106.52 197.40,109.98 198.80,110.50 C200.20,111.02 201.43,109.27 202.60,108.40 C203.77,107.53 204.70,106.17 205.80,105.30 C206.90,104.43 207.75,102.92 209.20,103.20 C210.65,103.48 212.57,105.32 214.50,107.00 C216.43,108.68 219.23,112.47 220.80,113.30 C222.37,114.13 222.85,113.33 223.90,112.00 C224.95,110.67 226.03,107.12 227.10,105.30 C228.17,103.48 228.90,101.28 230.30,101.10 C231.70,100.92 233.58,103.43 235.50,104.20 C237.42,104.97 239.52,105.35 241.80,105.70 C244.08,106.05 246.92,105.95 249.20,106.30 C251.48,106.65 254.03,107.43 255.50,107.80 C256.97,108.17 256.92,108.55 258.00,108.50 C259.08,108.45 260.58,107.92 262.00,107.50 C263.42,107.08 265.08,106.00 266.50,106.00 C267.92,106.00 268.92,106.88 270.50,107.50 C272.08,108.12 273.92,109.03 276.00,109.70 C278.08,110.37 280.78,111.03 283.00,111.50 C285.22,111.97 287.20,112.40 289.30,112.50 C291.40,112.60 293.50,112.55 295.60,112.10 C297.70,111.65 299.97,110.53 301.90,109.80 C303.83,109.07 305.45,108.27 307.20,107.70 C308.95,107.13 310.65,106.75 312.40,106.40 C314.15,106.05 316.13,105.63 317.70,105.60 C319.27,105.57 321.12,106.10 321.80,106.20" fill="none" stroke="#1a1a1a" stroke-width="1.2" stroke-linejoin="round" stroke-linecap="butt" stroke-dasharray="4.1 3.7"/>
<path d="M50.50,124.00 C50.57,123.73 50.42,123.18 50.90,122.40 C51.38,121.62 52.55,120.42 53.40,119.30 C54.25,118.18 55.18,116.53 56.00,115.70 C56.82,114.87 57.55,114.75 58.30,114.30 C59.05,113.85 59.77,113.58 60.50,113.00 C61.23,112.42 61.95,111.62 62.70,110.80 C63.45,109.98 64.25,108.92 65.00,108.10 C65.75,107.28 66.35,106.82 67.20,105.90 C68.05,104.98 69.22,103.68 70.10,102.60 C70.98,101.52 71.30,99.93 72.50,99.40 C73.70,98.87 76.10,99.80 77.30,99.40 C78.50,99.00 78.87,99.23 79.70,97.00 C80.53,94.77 81.40,88.68 82.30,86.00 C83.20,83.32 84.33,81.08 85.10,80.90 C85.87,80.72 86.23,83.10 86.90,84.90 C87.57,86.70 88.35,89.42 89.10,91.70 C89.85,93.98 90.63,97.03 91.40,98.60 C92.17,100.17 92.83,101.02 93.70,101.10 C94.57,101.18 95.65,99.87 96.60,99.10 C97.55,98.33 98.55,96.30 99.40,96.50 C100.25,96.70 100.97,99.10 101.70,100.30 C102.43,101.50 103.13,103.80 103.80,103.70 C104.47,103.60 105.00,101.60 105.70,99.70 C106.40,97.80 107.23,94.02 108.00,92.30 C108.77,90.58 109.53,90.22 110.30,89.40 C111.07,88.58 111.93,87.20 112.60,87.40 C113.27,87.60 113.73,90.17 114.30,90.60 C114.87,91.03 115.33,90.67 116.00,90.00 C116.67,89.33 117.37,87.60 118.30,86.60 C119.23,85.60 120.77,84.15 121.60,84.00 C122.43,83.85 122.45,87.13 123.30,85.70 C124.15,84.27 125.57,77.73 126.70,75.40 C127.83,73.07 128.95,71.83 130.10,71.70 C131.25,71.57 132.45,73.27 133.60,74.60 C134.75,75.93 135.87,78.33 137.00,79.70 C138.13,81.07 139.25,83.23 140.40,82.80 C141.55,82.37 142.75,79.47 143.90,77.10 C145.05,74.73 146.17,70.37 147.30,68.60 C148.43,66.83 149.72,66.70 150.70,66.50 C151.68,66.30 152.08,67.78 153.20,67.40 C154.32,67.02 156.18,64.03 157.40,64.20 C158.62,64.37 159.45,66.82 160.50,68.40 C161.55,69.98 162.82,72.53 163.70,73.70 C164.58,74.87 164.93,75.58 165.80,75.40 C166.67,75.22 167.67,73.83 168.90,72.60 C170.13,71.37 171.97,68.95 173.20,68.00 C174.43,67.05 174.97,67.63 176.30,66.90 C177.63,66.17 179.80,63.80 181.20,63.60 C182.60,63.40 183.42,64.90 184.70,65.70 C185.98,66.50 187.48,67.48 188.90,68.40 C190.32,69.32 191.78,69.97 193.20,71.20 C194.62,72.43 195.90,74.33 197.40,75.80 C198.90,77.27 200.63,79.05 202.20,80.00 C203.77,80.95 205.45,81.05 206.80,81.50 C208.15,81.95 209.02,82.78 210.30,82.70 C211.58,82.62 213.10,81.52 214.50,81.00 C215.90,80.48 217.30,79.60 218.70,79.60 C220.10,79.60 221.50,80.40 222.90,81.00 C224.30,81.60 225.87,82.60 227.10,83.20 C228.33,83.80 229.25,84.78 230.30,84.60 C231.35,84.42 232.42,82.65 233.40,82.10 C234.38,81.55 235.15,81.12 236.20,81.30 C237.25,81.48 238.58,83.25 239.70,83.20 C240.82,83.15 241.67,81.82 242.90,81.00 C244.13,80.18 245.77,79.07 247.10,78.30 C248.43,77.53 249.67,76.47 250.90,76.40 C252.13,76.33 253.20,77.48 254.50,77.90 C255.80,78.32 257.48,78.38 258.70,78.90 C259.92,79.42 260.75,80.22 261.80,81.00 C262.85,81.78 264.08,83.08 265.00,83.60 C265.92,84.12 266.22,83.73 267.30,84.10 C268.38,84.47 269.93,85.62 271.50,85.80 C273.07,85.98 274.95,84.85 276.70,85.20 C278.45,85.55 279.72,87.10 282.00,87.90 C284.28,88.70 288.13,89.85 290.40,90.00 C292.67,90.15 293.68,88.97 295.60,88.80 C297.52,88.63 300.32,88.65 301.90,89.00 C303.48,89.35 303.87,90.23 305.10,90.90 C306.33,91.57 307.73,92.58 309.30,93.00 C310.87,93.42 312.75,93.30 314.50,93.40 C316.25,93.50 318.58,93.50 319.80,93.60 C321.02,93.70 321.47,93.93 321.80,94.00" fill="none" stroke="#1a1a1a" stroke-width="1.2" stroke-linejoin="round" stroke-linecap="butt"/>
</g>
<g clip-path="url(#cb)">
<path d="M50.50,143.00 C51.75,143.17 55.08,143.67 58.00,144.00 C60.92,144.33 65.00,144.57 68.00,145.00 C71.00,145.43 73.00,146.00 76.00,146.60 C79.00,147.20 82.67,148.13 86.00,148.60 C89.33,149.07 92.67,149.17 96.00,149.40 C99.33,149.63 103.00,149.73 106.00,150.00 C109.00,150.27 111.67,150.67 114.00,151.00 C116.33,151.33 118.40,151.82 120.00,152.00 C121.60,152.18 121.10,151.55 123.60,152.10 C126.10,152.65 131.20,154.48 135.00,155.30 C138.80,156.12 142.58,156.43 146.40,157.00 C150.22,157.57 153.62,157.85 157.90,158.70 C162.18,159.55 167.82,161.25 172.10,162.10 C176.38,162.95 180.62,163.38 183.60,163.80 C186.58,164.22 187.60,164.23 190.00,164.60 C192.40,164.97 195.13,165.50 198.00,166.00 C200.87,166.50 204.37,167.05 207.20,167.60 C210.03,168.15 212.15,168.70 215.00,169.30 C217.85,169.90 221.47,170.70 224.30,171.20 C227.13,171.70 229.38,171.90 232.00,172.30 C234.62,172.70 237.33,173.10 240.00,173.60 C242.67,174.10 245.15,174.75 248.00,175.30 C250.85,175.85 254.27,176.37 257.10,176.90 C259.93,177.43 262.13,177.97 265.00,178.50 C267.87,179.03 271.30,179.60 274.30,180.10 C277.30,180.60 280.15,181.05 283.00,181.50 C285.85,181.95 288.57,182.38 291.40,182.80 C294.23,183.22 297.13,183.63 300.00,184.00 C302.87,184.37 304.97,184.57 308.60,185.00 C312.23,185.43 319.60,186.33 321.80,186.60" fill="none" stroke="#1a1a1a" stroke-width="1.2" stroke-linejoin="round" stroke-linecap="butt"/>
<path d="M50.50,191.50 C50.58,192.08 50.58,193.32 51.00,195.00 C51.42,196.68 52.25,199.53 53.00,201.60 C53.75,203.67 54.53,205.47 55.50,207.40 C56.47,209.33 57.57,211.40 58.80,213.20 C60.03,215.00 61.52,216.77 62.90,218.20 C64.28,219.63 65.85,220.98 67.10,221.80 C68.35,222.62 69.17,223.02 70.40,223.10 C71.63,223.18 73.12,222.85 74.50,222.30 C75.88,221.75 77.45,220.43 78.70,219.80 C79.95,219.17 81.02,219.05 82.00,218.50 C82.98,217.95 83.03,217.05 84.60,216.50 C86.17,215.95 88.73,215.38 91.40,215.20 C94.07,215.02 97.55,215.28 100.60,215.40 C103.65,215.52 107.42,216.08 109.70,215.90 C111.98,215.72 112.40,215.27 114.30,214.30 C116.20,213.33 118.82,211.10 121.10,210.10 C123.38,209.10 125.33,208.75 128.00,208.30 C130.67,207.85 134.05,207.78 137.10,207.40 C140.15,207.02 143.25,206.50 146.30,206.00 C149.35,205.50 152.33,205.47 155.40,204.40 C158.47,203.33 160.92,201.13 164.70,199.60 C168.48,198.07 174.45,195.53 178.10,195.20 C181.75,194.87 183.77,196.87 186.60,197.60 C189.43,198.33 192.27,199.75 195.10,199.60 C197.93,199.45 200.57,198.12 203.60,196.70 C206.63,195.28 210.47,192.32 213.30,191.10 C216.13,189.88 217.77,189.40 220.60,189.40 C223.43,189.40 227.40,190.43 230.30,191.10 C233.20,191.77 235.50,193.30 238.00,193.40 C240.50,193.50 242.37,192.53 245.30,191.70 C248.23,190.87 252.17,189.13 255.60,188.40 C259.03,187.67 262.48,187.38 265.90,187.30 C269.32,187.22 272.68,187.93 276.10,187.90 C279.52,187.87 282.97,187.37 286.40,187.10 C289.83,186.83 293.27,186.43 296.70,186.30 C300.13,186.17 302.82,186.20 307.00,186.30 C311.18,186.40 319.33,186.80 321.80,186.90" fill="none" stroke="#1a1a1a" stroke-width="1.2" stroke-linejoin="round" stroke-linecap="butt" stroke-dasharray="4.2 1.9 0.8 1.9"/>
<path d="M50.50,205.00 C50.63,205.53 50.75,206.83 51.30,208.20 C51.85,209.57 52.83,211.12 53.80,213.20 C54.77,215.28 55.85,218.48 57.10,220.70 C58.35,222.92 59.92,224.85 61.30,226.50 C62.68,228.15 64.02,229.50 65.40,230.60 C66.78,231.70 68.35,232.63 69.60,233.10 C70.85,233.57 71.67,233.68 72.90,233.40 C74.13,233.12 75.82,231.97 77.00,231.40 C78.18,230.83 78.35,230.88 80.00,230.00 C81.65,229.12 84.62,227.12 86.90,226.10 C89.18,225.08 91.42,224.08 93.70,223.90 C95.98,223.72 98.32,224.32 100.60,225.00 C102.88,225.68 105.12,227.62 107.40,228.00 C109.68,228.38 112.02,227.80 114.30,227.30 C116.58,226.80 118.43,225.77 121.10,225.00 C123.77,224.23 127.25,223.20 130.30,222.70 C133.35,222.20 136.35,222.07 139.40,222.00 C142.45,221.93 146.00,222.40 148.60,222.30 C151.20,222.20 152.32,222.03 155.00,221.40 C157.68,220.77 161.05,219.50 164.70,218.50 C168.35,217.50 173.25,215.72 176.90,215.40 C180.55,215.08 183.57,216.28 186.60,216.60 C189.63,216.92 192.27,217.72 195.10,217.30 C197.93,216.88 200.57,215.23 203.60,214.10 C206.63,212.97 210.47,211.10 213.30,210.50 C216.13,209.90 217.77,209.97 220.60,210.50 C223.43,211.03 227.07,213.10 230.30,213.70 C233.53,214.30 237.50,214.03 240.00,214.10 C242.50,214.17 243.13,214.40 245.30,214.10 C247.47,213.80 250.43,213.03 253.00,212.30 C255.57,211.57 257.70,210.00 260.70,209.70 C263.70,209.40 267.57,210.28 271.00,210.50 C274.43,210.72 277.87,211.05 281.30,211.00 C284.73,210.95 287.75,210.55 291.60,210.20 C295.45,209.85 299.37,209.07 304.40,208.90 C309.43,208.73 318.90,209.15 321.80,209.20" fill="none" stroke="#1a1a1a" stroke-width="1.2" stroke-linejoin="round" stroke-linecap="butt" stroke-dasharray="7.6 4.0"/>
<path d="M50.50,243.90 C51.18,243.48 53.08,242.32 54.60,241.40 C56.12,240.48 57.93,239.37 59.60,238.40 C61.27,237.43 62.93,236.43 64.60,235.60 C66.27,234.77 67.95,233.68 69.60,233.40 C71.25,233.12 72.85,233.67 74.50,233.90 C76.15,234.13 77.43,234.27 79.50,234.80 C81.57,235.33 84.53,236.57 86.90,237.10 C89.27,237.63 91.03,238.30 93.70,238.00 C96.37,237.70 100.23,236.22 102.90,235.30 C105.57,234.38 107.03,233.00 109.70,232.50 C112.37,232.00 115.47,232.22 118.90,232.30 C122.33,232.38 126.88,232.80 130.30,233.00 C133.72,233.20 136.35,233.68 139.40,233.50 C142.45,233.32 146.00,232.30 148.60,231.90 C151.20,231.50 151.92,231.15 155.00,231.10 C158.08,231.05 163.05,231.52 167.10,231.60 C171.15,231.68 175.65,231.88 179.30,231.60 C182.95,231.32 185.57,230.38 189.00,229.90 C192.43,229.42 196.25,228.57 199.90,228.70 C203.55,228.83 207.45,230.30 210.90,230.70 C214.35,231.10 217.37,231.35 220.60,231.10 C223.83,230.85 227.07,229.68 230.30,229.20 C233.53,228.72 237.07,228.32 240.00,228.20 C242.93,228.08 244.45,228.37 247.90,228.50 C251.35,228.63 256.85,229.13 260.70,229.00 C264.55,228.87 266.72,228.05 271.00,227.70 C275.28,227.35 281.25,227.12 286.40,226.90 C291.55,226.68 296.00,226.72 301.90,226.40 C307.80,226.08 318.48,225.23 321.80,225.00" fill="none" stroke="#1a1a1a" stroke-width="1.0" stroke-linejoin="round" stroke-linecap="butt" stroke-dasharray="1.0 1.75"/>
<path d="M50.50,248.80 C51.18,248.62 53.08,248.05 54.60,247.70 C56.12,247.35 57.93,246.78 59.60,246.70 C61.27,246.62 62.93,246.93 64.60,247.20 C66.27,247.47 67.95,248.03 69.60,248.30 C71.25,248.57 72.43,248.80 74.50,248.80 C76.57,248.80 79.57,248.18 82.00,248.30 C84.43,248.42 86.38,249.38 89.10,249.50 C91.82,249.62 95.25,249.17 98.30,249.00 C101.35,248.83 104.35,248.50 107.40,248.50 C110.45,248.50 113.55,249.00 116.60,249.00 C119.65,249.00 121.90,248.65 125.70,248.50 C129.50,248.35 134.83,248.20 139.40,248.10 C143.97,248.00 146.45,247.90 153.10,247.90 C159.75,247.90 170.88,247.98 179.30,248.10 C187.72,248.22 195.50,248.52 203.60,248.60 C211.70,248.68 218.50,248.60 227.90,248.60 C237.30,248.60 249.65,248.57 260.00,248.60 C270.35,248.63 279.70,248.77 290.00,248.80 C300.30,248.83 316.50,248.80 321.80,248.80" fill="none" stroke="#1a1a1a" stroke-width="1.2" stroke-linejoin="round" stroke-linecap="butt" stroke-dasharray="4.0 3.9"/>
</g>
<g clip-path="url(#cc)">
<path d="M50.50,377.40 C50.88,376.45 52.03,374.30 52.80,371.70 C53.57,369.10 54.38,365.82 55.10,361.80 C55.82,357.78 56.43,352.35 57.10,347.60 C57.77,342.85 58.48,337.58 59.10,333.30 C59.72,329.02 60.32,324.83 60.80,321.90 C61.28,318.97 61.52,316.17 62.00,315.70 C62.48,315.23 63.08,319.72 63.70,319.10 C64.32,318.48 64.90,313.52 65.70,312.00 C66.50,310.48 67.70,311.43 68.50,310.00 C69.30,308.57 69.78,307.10 70.50,303.40 C71.22,299.70 72.03,291.83 72.80,287.80 C73.57,283.77 74.30,281.33 75.10,279.20 C75.90,277.07 76.80,275.37 77.60,275.00 C78.40,274.63 79.05,275.35 79.90,277.00 C80.75,278.65 81.75,282.15 82.70,284.90 C83.65,287.65 84.65,290.65 85.60,293.50 C86.55,296.35 87.45,299.40 88.40,302.00 C89.35,304.60 90.35,307.68 91.30,309.10 C92.25,310.52 93.25,310.02 94.10,310.50 C94.95,310.98 95.75,310.83 96.40,312.00 C97.05,313.17 97.50,315.67 98.00,317.50 C98.50,319.33 98.85,321.75 99.40,323.00 C99.95,324.25 100.65,325.27 101.30,325.00 C101.95,324.73 102.70,323.65 103.30,321.40 C103.90,319.15 104.40,314.53 104.90,311.50 C105.40,308.47 105.73,304.78 106.30,303.20 C106.87,301.62 107.63,301.27 108.30,302.00 C108.97,302.73 109.72,305.95 110.30,307.60 C110.88,309.25 111.28,311.08 111.80,311.90 C112.32,312.72 112.90,314.22 113.40,312.50 C113.90,310.78 114.30,304.47 114.80,301.60 C115.30,298.73 115.80,296.85 116.40,295.30 C117.00,293.75 117.73,292.33 118.40,292.30 C119.07,292.27 119.75,295.03 120.40,295.10 C121.05,295.17 121.65,293.93 122.30,292.70 C122.95,291.47 123.57,288.78 124.30,287.70 C125.03,286.62 126.03,286.58 126.70,286.20 C127.37,285.82 127.80,285.87 128.30,285.40 C128.80,284.93 129.23,283.17 129.70,283.40 C130.17,283.63 130.60,285.25 131.10,286.80 C131.60,288.35 132.18,290.88 132.70,292.70 C133.22,294.52 133.62,296.82 134.20,297.70 C134.78,298.58 135.63,298.67 136.20,298.00 C136.77,297.33 137.13,295.25 137.60,293.70 C138.07,292.15 138.43,289.77 139.00,288.70 C139.57,287.63 140.33,287.13 141.00,287.30 C141.67,287.47 142.25,288.63 143.00,289.70 C143.75,290.77 144.65,292.22 145.50,293.70 C146.35,295.18 147.27,297.12 148.10,298.60 C148.93,300.08 149.70,301.77 150.50,302.60 C151.30,303.43 152.18,302.93 152.90,303.60 C153.62,304.27 154.18,305.77 154.80,306.60 C155.42,307.43 156.07,307.72 156.60,308.60 C157.13,309.48 157.43,311.02 158.00,311.90 C158.57,312.78 159.25,313.30 160.00,313.90 C160.75,314.50 161.75,315.50 162.50,315.50 C163.25,315.50 163.83,314.63 164.50,313.90 C165.17,313.17 165.83,311.23 166.50,311.10 C167.17,310.97 167.83,313.20 168.50,313.10 C169.17,313.00 169.62,311.25 170.50,310.50 C171.38,309.75 173.08,309.48 173.80,308.60 C174.52,307.72 174.37,306.30 174.80,305.20 C175.23,304.10 175.80,302.10 176.40,302.00 C177.00,301.90 177.67,303.60 178.40,304.60 C179.13,305.60 180.02,307.25 180.80,308.00 C181.58,308.75 182.38,308.68 183.10,309.10 C183.82,309.52 184.43,310.68 185.10,310.50 C185.77,310.32 186.33,308.42 187.10,308.00 C187.87,307.58 188.83,308.23 189.70,308.00 C190.57,307.77 191.48,306.67 192.30,306.60 C193.12,306.53 193.82,307.05 194.60,307.60 C195.38,308.15 196.17,309.08 197.00,309.90 C197.83,310.72 198.67,311.83 199.60,312.50 C200.53,313.17 201.52,313.33 202.60,313.90 C203.68,314.47 204.95,315.70 206.10,315.90 C207.25,316.10 208.43,315.10 209.50,315.10 C210.57,315.10 211.52,315.33 212.50,315.90 C213.48,316.47 214.48,317.75 215.40,318.50 C216.32,319.25 217.20,319.78 218.00,320.40 C218.80,321.02 219.40,321.57 220.20,322.20 C221.00,322.83 221.98,323.65 222.80,324.20 C223.62,324.75 224.38,325.78 225.10,325.50 C225.82,325.22 226.33,323.67 227.10,322.50 C227.87,321.33 228.83,319.65 229.70,318.50 C230.57,317.35 231.33,316.28 232.30,315.60 C233.27,314.92 234.57,315.13 235.50,314.40 C236.43,313.67 237.12,312.53 237.90,311.20 C238.68,309.87 239.45,307.98 240.20,306.40 C240.95,304.82 241.75,302.68 242.40,301.70 C243.05,300.72 243.47,300.42 244.10,300.50 C244.73,300.58 245.42,301.28 246.20,302.20 C246.98,303.12 247.78,304.63 248.80,306.00 C249.82,307.37 251.13,309.10 252.30,310.40 C253.47,311.70 254.78,313.03 255.80,313.80 C256.82,314.57 257.53,315.08 258.40,315.00 C259.27,314.92 260.00,314.07 261.00,313.30 C262.00,312.53 263.15,311.33 264.40,310.40 C265.65,309.47 267.25,308.37 268.50,307.70 C269.75,307.03 270.75,306.40 271.90,306.40 C273.05,306.40 274.10,307.05 275.40,307.70 C276.70,308.35 278.32,309.43 279.70,310.30 C281.08,311.17 282.53,312.80 283.70,312.90 C284.87,313.00 285.63,311.82 286.70,310.90 C287.77,309.98 288.95,308.22 290.10,307.40 C291.25,306.58 292.43,306.08 293.60,306.00 C294.77,305.92 295.80,306.47 297.10,306.90 C298.40,307.33 300.10,308.23 301.40,308.60 C302.70,308.97 303.73,308.95 304.90,309.10 C306.07,309.25 307.25,309.30 308.40,309.50 C309.55,309.70 310.65,310.17 311.80,310.30 C312.95,310.43 314.28,310.43 315.30,310.30 C316.32,310.17 317.03,309.83 317.90,309.50 C318.77,309.17 319.85,308.60 320.50,308.30 C321.15,308.00 321.58,307.80 321.80,307.70" fill="none" stroke="#1a1a1a" stroke-width="1.2" stroke-linejoin="round" stroke-linecap="butt"/>
</g>
<line x1="218" y1="12.8" x2="240" y2="12.8" stroke="#1a1a1a" stroke-width="1.2"/>
<line x1="218" y1="20.0" x2="240" y2="20.0" stroke="#1a1a1a" stroke-width="1.0" stroke-dasharray="1.0 1.75"/>
<line x1="218" y1="27.7" x2="240" y2="27.7" stroke="#1a1a1a" stroke-width="1.2" stroke-dasharray="3.6 4.25"/>
<line x1="247" y1="136.5" x2="268" y2="136.5" stroke="#1a1a1a" stroke-width="1.2"/>
<line x1="247" y1="143.9" x2="268" y2="143.9" stroke="#1a1a1a" stroke-width="1.0" stroke-dasharray="1.0 1.75"/>
<line x1="247" y1="151.1" x2="268" y2="151.1" stroke="#1a1a1a" stroke-width="1.2" stroke-dasharray="3.5 4.0"/>
<line x1="247" y1="158.6" x2="268" y2="158.6" stroke="#1a1a1a" stroke-width="1.2" stroke-dasharray="3.6 2.0 0.9 2.2"/>
<line x1="247" y1="166.3" x2="268" y2="166.3" stroke="#1a1a1a" stroke-width="1.2" stroke-dasharray="7.6 5.0"/>
<text class="h" x="0" y="0" font-size="10.2" text-anchor="end" transform="translate(46.20,12.50) scale(1.24,1)" >0.30</text>
<text class="h" x="0" y="0" font-size="10.2" text-anchor="end" transform="translate(46.20,31.20) scale(1.24,1)" >0.25</text>
<text class="h" x="0" y="0" font-size="10.2" text-anchor="end" transform="translate(46.20,50.50) scale(1.24,1)" >0.20</text>
<text class="h" x="0" y="0" font-size="10.2" text-anchor="end" transform="translate(46.20,69.70) scale(1.24,1)" >0.15</text>
<text class="h" x="0" y="0" font-size="10.2" text-anchor="end" transform="translate(46.20,89.10) scale(1.24,1)" >0.10</text>
<text class="h" x="0" y="0" font-size="10.2" text-anchor="end" transform="translate(46.20,108.70) scale(1.24,1)" >0.05</text>
<text class="h" x="0" y="0" font-size="10.2" text-anchor="end" transform="translate(46.20,125.00) scale(1.24,1)" >0.00</text>
<text class="h" x="0" y="0" font-size="10.2" text-anchor="end" transform="translate(46.20,134.80) scale(1.24,1)" >8</text>
<text class="h" x="0" y="0" font-size="10.2" text-anchor="end" transform="translate(46.20,163.80) scale(1.24,1)" >6</text>
<text class="h" x="0" y="0" font-size="10.2" text-anchor="end" transform="translate(46.20,194.40) scale(1.24,1)" >4</text>
<text class="h" x="0" y="0" font-size="10.2" text-anchor="end" transform="translate(46.20,225.50) scale(1.24,1)" >2</text>
<text class="h" x="0" y="0" font-size="10.2" text-anchor="end" transform="translate(46.20,252.40) scale(1.24,1)" >0</text>
<text class="h" x="0" y="0" font-size="10.2" text-anchor="start" transform="translate(326.00,134.70) scale(1.24,1)" >6</text>
<text class="h" x="0" y="0" font-size="10.2" text-anchor="start" transform="translate(326.00,153.10) scale(1.24,1)" >5</text>
<text class="h" x="0" y="0" font-size="10.2" text-anchor="start" transform="translate(326.00,174.10) scale(1.24,1)" >4</text>
<text class="h" x="0" y="0" font-size="10.2" text-anchor="start" transform="translate(326.00,194.60) scale(1.24,1)" >3</text>
<text class="h" x="0" y="0" font-size="10.2" text-anchor="start" transform="translate(326.00,215.10) scale(1.24,1)" >2</text>
<text class="h" x="0" y="0" font-size="10.2" text-anchor="start" transform="translate(326.00,234.80) scale(1.24,1)" >1</text>
<text class="h" x="0" y="0" font-size="10.2" text-anchor="start" transform="translate(326.00,252.20) scale(1.24,1)" >0</text>
<text class="h" x="0" y="0" font-size="10.2" text-anchor="end" transform="translate(46.00,263.10) scale(1.24,1)" >1.0</text>
<text class="h" x="0" y="0" font-size="10.2" text-anchor="end" transform="translate(46.00,285.50) scale(1.24,1)" >0.8</text>
<text class="h" x="0" y="0" font-size="10.2" text-anchor="end" transform="translate(46.00,309.50) scale(1.24,1)" >0.6</text>
<text class="h" x="0" y="0" font-size="10.2" text-anchor="end" transform="translate(46.00,333.80) scale(1.24,1)" >0.4</text>
<text class="h" x="0" y="0" font-size="10.2" text-anchor="end" transform="translate(46.00,358.00) scale(1.24,1)" >0.2</text>
<text class="h" x="0" y="0" font-size="10.2" text-anchor="end" transform="translate(46.00,378.80) scale(1.24,1)" >0.0</text>
<text class="h" x="0" y="0" font-size="10.2" text-anchor="middle" transform="translate(50.50,390.90) scale(1.24,1)" >0</text>
<text class="h" x="0" y="0" font-size="10.2" text-anchor="middle" transform="translate(104.76,390.90) scale(1.24,1)" >200</text>
<text class="h" x="0" y="0" font-size="10.2" text-anchor="middle" transform="translate(159.02,390.90) scale(1.24,1)" >400</text>
<text class="h" x="0" y="0" font-size="10.2" text-anchor="middle" transform="translate(213.28,390.90) scale(1.24,1)" >600</text>
<text class="h" x="0" y="0" font-size="10.2" text-anchor="middle" transform="translate(267.54,390.90) scale(1.24,1)" >800</text>
<text class="h" x="0" y="0" font-size="10.2" text-anchor="middle" transform="translate(321.80,390.90) scale(1.24,1)" >1000</text>
<text class="h" x="0" y="0" font-size="10.2" text-anchor="middle" transform="translate(185.80,401.90) scale(1.24,1)" letter-spacing="0.25" word-spacing="1.6">Time (s)</text>
<text class="h" x="0" y="0" font-size="7.3" text-anchor="start" transform="translate(246.60,15.00) scale(1.22,1)" word-spacing="0.6" letter-spacing="0.25">in y direction</text>
<text class="h" x="0" y="0" font-size="7.3" text-anchor="start" transform="translate(246.60,22.40) scale(1.22,1)" word-spacing="0.6" letter-spacing="0.25">in x direction</text>
<text class="h" x="0" y="0" font-size="7.3" text-anchor="start" transform="translate(246.60,29.60) scale(1.22,1)" word-spacing="0.6" letter-spacing="0.25">in z direction</text>
<text class="h" x="0" y="0" font-size="7.3" text-anchor="start" transform="translate(273.60,139.50) scale(1.22,1)" letter-spacing="0.22">potential</text>
<text class="h" x="0" y="0" font-size="7.3" text-anchor="start" transform="translate(273.60,146.80) scale(1.22,1)" letter-spacing="0.22">internal</text>
<text class="h" x="0" y="0" font-size="7.3" text-anchor="start" transform="translate(273.60,154.10) scale(1.22,1)" letter-spacing="0.22">kinetic</text>
<text class="h" x="0" y="0" font-size="7.3" text-anchor="start" transform="translate(273.60,161.50) scale(1.22,1)" letter-spacing="0.22">magnetic</text>
<text class="h" x="0" y="0" font-size="7.3" text-anchor="start" transform="translate(273.60,168.80) scale(1.22,1)" letter-spacing="0.22">volume</text>
<ellipse cx="65.6" cy="7.7" rx="3.4" ry="2.9" fill="none" stroke="#2a2a2a" stroke-width="1.05"/>
<line x1="69.0" y1="4.6" x2="69.0" y2="10.6" stroke="#2a2a2a" stroke-width="1.05"/>
<line x1="61.2" y1="131.2" x2="61.2" y2="140.4" stroke="#2a2a2a" stroke-width="1.05"/>
<ellipse cx="64.7" cy="137.2" rx="3.5" ry="3.1" fill="none" stroke="#2a2a2a" stroke-width="1.05"/>
<path d="M66.5,261.0 A3.75,3.45 0 1 0 66.5,265.6" fill="none" stroke="#2a2a2a" stroke-width="1.05"/>
<text class="t" x="0" y="0" font-size="12" text-anchor="middle" word-spacing="2.5" letter-spacing="0.25" transform="translate(11.30,62.50) rotate(-90) scale(0.8,1)">Kinetic energy (10<tspan dy="-4.6" font-size="8.2">27</tspan><tspan dy="4.6"> erg)</tspan></text>
<text class="t" x="0" y="0" font-size="12" text-anchor="middle" word-spacing="2.5" letter-spacing="0.25" transform="translate(18.70,186.20) rotate(-90) scale(0.8,1)">Energy (10<tspan dy="-4.6" font-size="8.2">27</tspan><tspan dy="4.6"> erg)</tspan></text>
<text class="t" x="0" y="0" font-size="12" text-anchor="middle" word-spacing="2.5" letter-spacing="0.25" transform="translate(18.60,316.00) rotate(-90) scale(0.8,1)">|B<tspan dy="2.8" font-size="8.2">y</tspan><tspan dy="-2.8">| (Gauss)</tspan></text>
<text class="t" x="0" y="0" font-size="12" text-anchor="middle" word-spacing="2.5" letter-spacing="0.25" transform="translate(346.60,186.80) rotate(-90) scale(0.8,1)">volume (10<tspan dy="-4.6" font-size="8.2">27</tspan><tspan dy="4.6"> cm</tspan><tspan dy="-4.6" font-size="8.2">-3</tspan><tspan dy="4.6">)</tspan></text>
</svg>
</body></html>
